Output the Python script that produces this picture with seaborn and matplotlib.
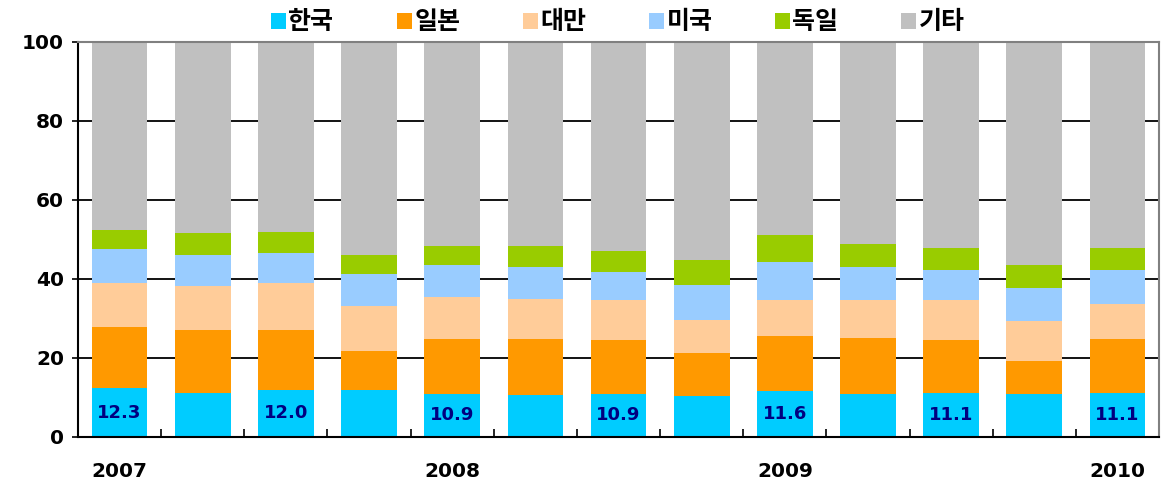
import matplotlib
matplotlib.use("Agg")
import matplotlib.pyplot as plt
import seaborn as sns
import pandas as pd
import numpy as np
from matplotlib.patches import Patch

sns.set_theme(style="white")
plt.rcParams['font.family'] = ['Noto Sans CJK KR', 'DejaVu Sans']
plt.rcParams['text.color'] = 'black'
plt.rcParams['xtick.color'] = 'black'
plt.rcParams['ytick.color'] = 'black'
plt.rcParams['axes.labelcolor'] = 'black'

periods = [f"P{i}" for i in range(13)]
xlabels = ["2007", "", "", "", "2008", "", "", "", "2009", "", "", "", "2010"]
korea   = [12.3, 11.1, 12.0, 11.8, 10.9, 10.6, 10.9, 10.5, 11.6, 11.0, 11.1, 11.0, 11.1]
japan   = [15.5, 16.0, 15.1, 10.0, 13.9, 14.2, 13.7, 10.8, 14.0, 14.1, 13.5, 8.2, 13.7]
taiwan  = [11.2, 11.2, 11.9, 11.4, 10.6, 10.1, 10.1, 8.3, 9.1, 9.6, 10.1, 10.2, 8.9]
usa     = [8.6, 7.8, 7.6, 8.1, 8.1, 8.1, 7.1, 8.9, 9.6, 8.3, 7.6, 8.3, 8.6]
germany = [4.9, 5.5, 5.3, 4.8, 4.8, 5.3, 5.3, 6.3, 6.8, 5.9, 5.6, 5.8, 5.6]
other   = [round(100 - a - b - c - d - e, 1) for a, b, c, d, e in zip(korea, japan, taiwan, usa, germany)]
label_idx = [0, 2, 4, 6, 8, 10, 12]

names = ["한국", "일본", "대만", "미국", "독일", "기타"]
colors = ["#00CCFF", "#FF9900", "#FFCC99", "#99CCFF", "#99CC00", "#C0C0C0"]
series = [korea, japan, taiwan, usa, germany, other]

cum = np.cumsum(np.array(series), axis=0)

fig = plt.figure(figsize=(11.61, 4.82), dpi=100)
ax = fig.add_axes([0.0672, 0.0934, 0.9311, 0.8195])

for gl in [20, 40, 60, 80]:
    ax.axhline(gl, color="black", lw=1.3, zorder=0)

for k in range(len(names) - 1, -1, -1):
    df = pd.DataFrame({"period": periods, "value": cum[k]})
    sns.barplot(data=df, x="period", y="value", color=colors[k], width=0.67,
                saturation=1, ax=ax, zorder=2, linewidth=0)

for i in label_idx:
    ax.text(i, korea[i] / 2, f"{korea[i]:.1f}", ha="center", va="center",
            color="#000080", fontsize=13, fontweight="bold", zorder=5,
            family=['DejaVu Sans'])

ax.set_ylim(0, 100)
ax.set_xlim(-0.5, 12.5)
ax.set_yticks([0, 20, 40, 60, 80, 100])
ax.set_yticklabels(["0", "20", "40", "60", "80", "100"], fontsize=14.5,
                   fontweight="bold", family=['DejaVu Sans'], color="black")
ax.set_xticks(range(13))
ax.set_xticklabels(xlabels, fontsize=14.5, fontweight="bold", family=['DejaVu Sans'],
                   color="black")
ax.tick_params(axis="x", length=0, pad=18)
ax.tick_params(axis="y", length=4, direction="out", left=True, width=1.2, pad=6,
               color="black")
ax.set_xticks(np.arange(0.5, 12.5, 1), minor=True)
ax.tick_params(axis="x", which="minor", length=6, direction="in", bottom=True,
               width=1.2, color="black")
ax.set_xlabel("")
ax.set_ylabel("")

for side in ["left", "bottom"]:
    ax.spines[side].set_color("black")
    ax.spines[side].set_linewidth(1.5)
for side in ["top", "right"]:
    ax.spines[side].set_color("#808080")
    ax.spines[side].set_linewidth(1.5)

handles = [Patch(facecolor=c, edgecolor="none", label=n) for n, c in zip(names, colors)]
fig.legend(handles=handles, loc="upper center", bbox_to_anchor=(0.532, 1.025), ncol=6,
           frameon=False, handlelength=0.6, handleheight=0.6, handletextpad=0.1,
           columnspacing=2.5, prop={"size": 18, "weight": "bold"}, labelcolor="black")

fig.savefig("out.png", dpi=100)
